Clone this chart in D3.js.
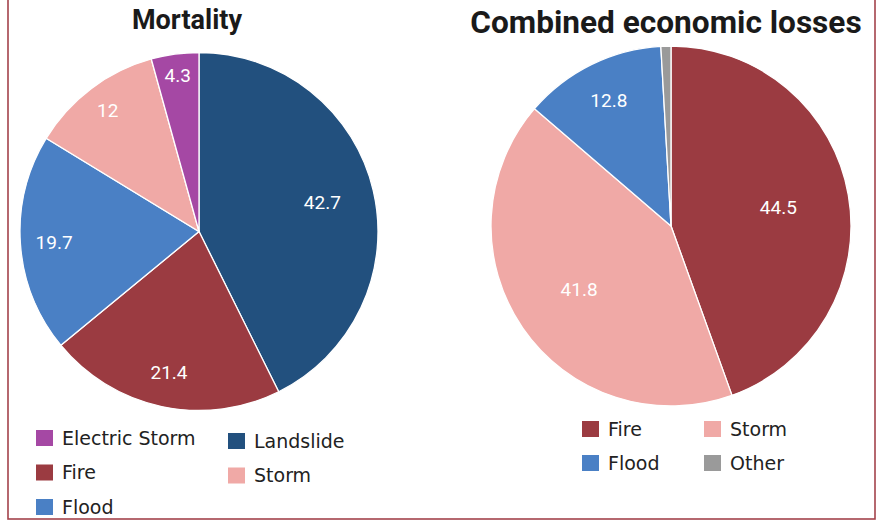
<!DOCTYPE html>
<html>
<head>
<meta charset="utf-8">
<script src="https://cdn.jsdelivr.net/npm/d3@7"></script>
<style>
  body { margin: 0; background: #fff; }
  svg { display: block; }
</style>
</head>
<body>
<div id="chart"></div>
<script>
// data
const mortalityCats = ["Landslide", "Fire", "Flood", "Storm", "Electric Storm"];
const mortalityVals = [42.7, 21.4, 19.7, 12, 4.3];
const mortalityLegend = ["Electric Storm", "Fire", "Flood", "Landslide", "Storm"];

const lossCats = ["Fire", "Storm", "Flood", "Other"];
const lossVals = [44.5, 41.8, 12.8, 0.9];
const lossLegend = ["Fire", "Storm", "Flood", "Other"];

const colors = {
  "Landslide": "#22507e",
  "Fire": "#9b3b41",
  "Flood": "#4a80c5",
  "Storm": "#f0a9a6",
  "Electric Storm": "#a548a4",
  "Other": "#9a9a9a"
};

const width = 877, height = 522;

const svg = d3.select("#chart").append("svg")
  .attr("width", width)
  .attr("height", height);

// frame
svg.append("rect")
  .attr("x", 8).attr("y", -4)
  .attr("width", 867).attr("height", 523)
  .attr("fill", "none")
  .attr("stroke", "#a3434b")
  .attr("stroke-width", 1.6);

function drawPie(cats, vals, opt){
  const g = svg.append("g").attr("transform", `translate(${opt.cx},${opt.cy})`);
  const total = d3.sum(vals);
  const pie = d3.pie().sort(null).value(d => d.v);
  const arcs = pie(cats.map((c, i) => ({c: c, v: vals[i]})));
  const arc = d3.arc().innerRadius(0).outerRadius(opt.r);

  g.selectAll("path")
    .data(arcs)
    .enter().append("path")
    .attr("d", arc)
    .attr("fill", d => colors[d.data.c])
    .attr("stroke", "#fff")
    .attr("stroke-width", 1.3);

  // labels: big slices sit nearer the middle, small ones pushed out
  g.selectAll("text")
    .data(arcs.filter(d => d.data.v / total > 0.02))
    .enter().append("text")
    .attr("transform", d => {
      const f = opt.labelBase - opt.labelSlope * d.data.v / total;
      const a = (d.startAngle + d.endAngle) / 2;
      return `translate(${Math.sin(a) * opt.r * f},${-Math.cos(a) * opt.r * f})`;
    })
    .attr("text-anchor", "middle")
    .attr("dy", "0.36em")
    .attr("fill", "#fff")
    .style("font-family", "Roboto, sans-serif")
    .style("font-size", "19px")
    .text(d => d.data.v);

  svg.append("text")
    .attr("x", opt.titleX).attr("y", opt.titleY)
    .attr("text-anchor", "middle")
    .style("font-family", "Roboto, sans-serif")
    .style("font-weight", "bold")
    .style("font-size", opt.titleSize + "px")
    .attr("fill", "#1a1a1a")
    .text(opt.title);

  // legend
  const lg = svg.append("g");
  opt.legend.forEach((name, i) => {
    const col = opt.colMajor ? Math.floor(i / opt.rows) : i % opt.cols;
    const row = opt.colMajor ? i % opt.rows : Math.floor(i / opt.cols);
    const x = opt.legX[col];
    const y = opt.legY0 + row * opt.legStep + col * opt.colShift;
    lg.append("rect")
      .attr("x", x).attr("y", y - 8)
      .attr("width", 17).attr("height", 16)
      .attr("fill", colors[name]);
    lg.append("text")
      .attr("x", x + 26).attr("y", y)
      .attr("dy", "0.36em")
      .style("font-family", "'DejaVu Sans', sans-serif")
      .style("font-size", "19px")
      .attr("fill", "#222")
      .text(name);
  });
}

drawPie(mortalityCats, mortalityVals, {
  cx: 199, cy: 231.5, r: 179,
  labelBase: 0.9, labelSlope: 0.45,
  title: "Mortality", titleX: 187, titleY: 29, titleSize: 27,
  legend: mortalityLegend, colMajor: true, rows: 3,
  legX: [36, 228], legY0: 438, legStep: 34.5, colShift: 3
});

drawPie(lossCats, lossVals, {
  cx: 671, cy: 226, r: 180,
  labelBase: 0.85, labelSlope: 0.55,
  title: "Combined economic losses", titleX: 666, titleY: 33, titleSize: 31.6,
  legend: lossLegend, colMajor: false, cols: 2,
  legX: [582, 704], legY0: 429, legStep: 34, colShift: 0
});
</script>
</body>
</html>
